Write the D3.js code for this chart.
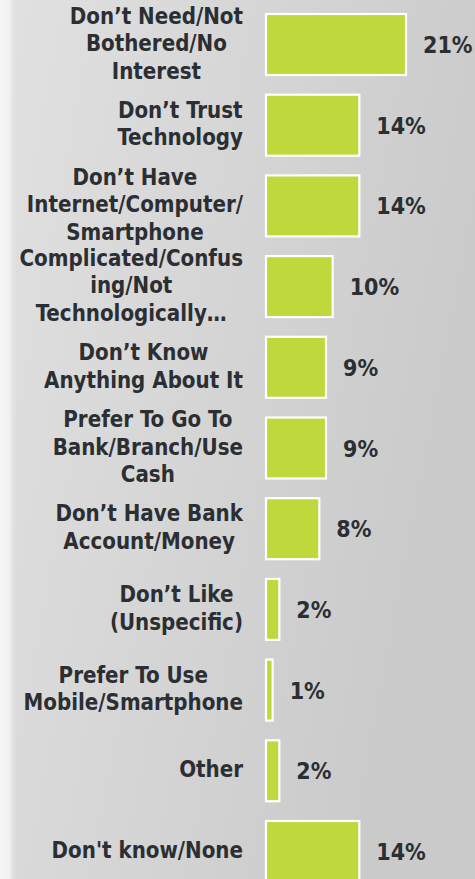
<!DOCTYPE html>
<html>
<head>
<meta charset="utf-8">
<script src="https://cdn.jsdelivr.net/npm/d3@7"></script>
<style>
  html, body { margin: 0; padding: 0; background: #d8d8d8; }
  svg { display: block; }
  .lbl { font-family: "DejaVu Sans Condensed", "DejaVu Sans", sans-serif; font-stretch: condensed; font-weight: bold; fill: #2b2e33; }
</style>
</head>
<body>
<svg id="chart" width="475" height="879"></svg>
<script>
// Reasons given, one entry per bar; each label is split into its wrapped lines
const categories = [
  ["Don’t Need/Not", "Bothered/No", "Interest"],
  ["Don’t Trust", "Technology"],
  ["Don’t Have", "Internet/Computer/", "Smartphone"],
  ["Complicated/Confus", "ing/Not", "Technologically…"],
  ["Don’t Know", "Anything About It"],
  ["Prefer To Go To", "Bank/Branch/Use", "Cash"],
  ["Don’t Have Bank", "Account/Money"],
  ["Don’t Like", "(Unspecific)"],
  ["Prefer To Use", "Mobile/Smartphone"],
  ["Other"],
  ["Don't know/None"]
];
// Share of respondents (%)
const values = [21, 14, 14, 10, 9, 9, 8, 2, 1, 2, 14];
const valueLabels = ["21%", "14%", "14%", "10%", "9%", "9%", "8%", "2%", "1%", "2%", "14%"];

const W = 475, H = 879;
const svg = d3.select("#chart");
const defs = svg.append("defs");

// Slide background: soft grey gradient with a pale strip down the left edge
const bg = defs.append("linearGradient").attr("id", "bg")
  .attr("x1", "0").attr("y1", "0").attr("x2", "1").attr("y2", "0.35");
bg.append("stop").attr("offset", "0").attr("stop-color", "#e1e1e1");
bg.append("stop").attr("offset", "1").attr("stop-color", "#cacaca");
svg.append("rect").attr("width", W).attr("height", H).attr("fill", "url(#bg)");

const strip = defs.append("linearGradient").attr("id", "strip")
  .attr("x1", "0").attr("y1", "0").attr("x2", "1").attr("y2", "0");
strip.append("stop").attr("offset", "0").attr("stop-color", "#f6f6f6");
strip.append("stop").attr("offset", "0.55").attr("stop-color", "#f0f0f0");
strip.append("stop").attr("offset", "1").attr("stop-color", "#e0e0e0").attr("stop-opacity", 0);
svg.append("rect").attr("x", 0).attr("y", 0).attr("width", 17).attr("height", H).attr("fill", "url(#strip)");

const idx = d3.range(values.length);
const x = d3.scaleLinear().domain([0, 30]).range([266, 466]);
const y = d3.scaleBand().domain(idx).range([14, 882]).paddingInner(0.244).paddingOuter(0);

// Bars
svg.append("g").selectAll("rect").data(idx).join("rect")
  .attr("x", x(0))
  .attr("y", i => y(i))
  .attr("width", i => x(values[i]) - x(0))
  .attr("height", y.bandwidth())
  .attr("fill", "#bfd83c")
  .attr("stroke", "#ffffff")
  .attr("stroke-width", 2.2);

// Category labels: lines centred on each other, block right-aligned to the axis gap
const labelRight = 243, lineH = 27.5;
const lg = svg.append("g");
idx.forEach(i => {
  const lines = categories[i];
  const cy = y(i) + y.bandwidth() / 2;
  const t = lg.append("text").attr("class", "lbl").attr("font-size", 22.1).attr("text-anchor", "middle");
  const spans = lines.map((s, k) => t.append("tspan")
    .attr("y", cy - (lines.length - 1) / 2 * lineH + k * lineH + 6.5)
    .text(s));
  const maxW = d3.max(spans, sp => sp.node().getComputedTextLength());
  spans.forEach(sp => sp.attr("x", labelRight - maxW / 2));
});

// Value labels
svg.append("g").selectAll("text").data(idx).join("text")
  .attr("class", "lbl")
  .attr("font-size", 23)
  .attr("x", i => x(values[i]) + 17)
  .attr("y", i => y(i) + y.bandwidth() / 2 + 8.5)
  .text(i => valueLabels[i]);
</script>
</body>
</html>
